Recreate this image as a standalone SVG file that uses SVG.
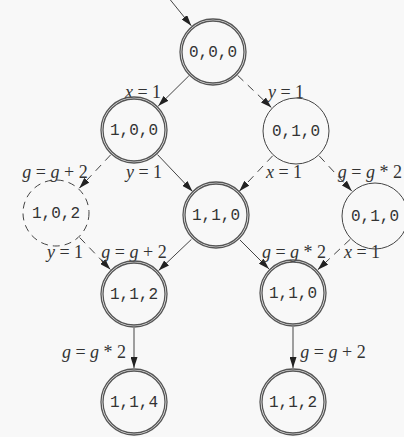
<svg xmlns="http://www.w3.org/2000/svg" width="404" height="437" viewBox="0 0 404 437">
<defs>
<style>
.bg{fill:#f8f8f8}
.o{fill:none;stroke:#555;stroke-width:1.3}
.s{fill:none;stroke:#444;stroke-width:1}
.d{fill:none;stroke:#444;stroke-width:1;stroke-dasharray:7 5}
.e{fill:none;stroke:#444;stroke-width:1}
.ed{fill:none;stroke:#444;stroke-width:1;stroke-dasharray:8 6}
.n{font-family:"Liberation Mono",monospace;font-size:16px;fill:#333;text-anchor:middle}
.l{font-family:"Liberation Serif",serif;font-size:18px;fill:#333;text-anchor:middle}
.i{font-style:italic}
</style>
<marker id="ah" viewBox="0 0 11 7" refX="11" refY="3.5" markerWidth="11" markerHeight="7" markerUnits="userSpaceOnUse" orient="auto">
<path d="M0,0 L11,3.5 L0,7 z" fill="#222"/>
</marker>
</defs>
<rect class="bg" x="0" y="0" width="404" height="437"/>
<g id="connectors">
<line class="e" x1="168" y1="-3" x2="191.3" y2="25.8" marker-end="url(#ah)"/>
<line class="e" x1="188.8" y1="75.9" x2="158.2" y2="106.1" marker-end="url(#ah)"/>
<line class="ed" x1="237.6" y1="75.4" x2="271.4" y2="107.6" marker-end="url(#ah)"/>
<line class="ed" x1="110.7" y1="154.8" x2="79.3" y2="188.2" marker-end="url(#ah)"/>
<line class="e" x1="157.5" y1="154.6" x2="192.5" y2="191.4" marker-end="url(#ah)"/>
<line class="ed" x1="272.7" y1="155.8" x2="239.3" y2="191.2" marker-end="url(#ah)"/>
<line class="ed" x1="319.2" y1="155.9" x2="351.8" y2="191.1" marker-end="url(#ah)"/>
<line class="ed" x1="79.6" y1="237.5" x2="110.4" y2="269.5" marker-end="url(#ah)"/>
<line class="e" x1="191.4" y1="239.4" x2="158.6" y2="270.6" marker-end="url(#ah)"/>
<line class="e" x1="240" y1="240" x2="269" y2="269" marker-end="url(#ah)"/>
<line class="ed" x1="350.2" y1="239.3" x2="317.8" y2="269.7" marker-end="url(#ah)"/>
<line class="e" x1="134" y1="328" x2="134" y2="368" marker-end="url(#ah)"/>
<line class="e" x1="293" y1="327" x2="293" y2="368" marker-end="url(#ah)"/>
<text class="l" x="143" y="98"><tspan class="i">x</tspan> = 1</text>
<text class="l" x="286" y="98"><tspan class="i">y</tspan> = 1</text>
<text class="l" x="55" y="178"><tspan class="i">g</tspan> = <tspan class="i">g</tspan> + 2</text>
<text class="l" x="144" y="178"><tspan class="i">y</tspan> = 1</text>
<text class="l" x="284" y="178"><tspan class="i">x</tspan> = 1</text>
<text class="l" x="402" y="178" style="text-anchor:end"><tspan class="i">g</tspan> = <tspan class="i">g</tspan> * 2</text>
<text class="l" x="65" y="258"><tspan class="i">y</tspan> = 1</text>
<text class="l" x="134" y="258"><tspan class="i">g</tspan> = <tspan class="i">g</tspan> + 2</text>
<text class="l" x="294" y="258"><tspan class="i">g</tspan> = <tspan class="i">g</tspan> * 2</text>
<text class="l" x="362" y="258"><tspan class="i">x</tspan> = 1</text>
<text class="l" x="94" y="358"><tspan class="i">g</tspan> = <tspan class="i">g</tspan> * 2</text>
<text class="l" x="333" y="358"><tspan class="i">g</tspan> = <tspan class="i">g</tspan> + 2</text>
</g>
<g id="n000"><circle class="o" cx="213" cy="52" r="33"/><circle class="o" cx="213" cy="52" r="31"/><text class="n" x="213" y="57">0,0,0</text></g>
<g id="n100"><circle class="o" cx="134" cy="130" r="33"/><circle class="o" cx="134" cy="130" r="31"/><text class="n" x="134" y="135">1,0,0</text></g>
<g id="n010a"><circle class="s" cx="296" cy="131" r="33"/><text class="n" x="296" y="136">0,1,0</text></g>
<g id="n102"><circle class="d" cx="56" cy="213" r="33"/><text class="n" x="56" y="218">1,0,2</text></g>
<g id="n110a"><circle class="o" cx="216" cy="215" r="33"/><circle class="o" cx="216" cy="215" r="31"/><text class="n" x="216" y="220">1,1,0</text></g>
<g id="n010b"><circle class="s" cx="375" cy="216" r="33"/><text class="n" x="375" y="221">0,1,0</text></g>
<g id="n112a"><circle class="o" cx="134" cy="294" r="33"/><circle class="o" cx="134" cy="294" r="31"/><text class="n" x="134" y="299">1,1,2</text></g>
<g id="n110b"><circle class="o" cx="293" cy="293" r="33"/><circle class="o" cx="293" cy="293" r="31"/><text class="n" x="293" y="298">1,1,0</text></g>
<g id="n114"><circle class="o" cx="134" cy="402" r="33"/><circle class="o" cx="134" cy="402" r="31"/><text class="n" x="134" y="407">1,1,4</text></g>
<g id="n112b"><circle class="o" cx="293" cy="402" r="33"/><circle class="o" cx="293" cy="402" r="31"/><text class="n" x="293" y="407">1,1,2</text></g>
</svg>
